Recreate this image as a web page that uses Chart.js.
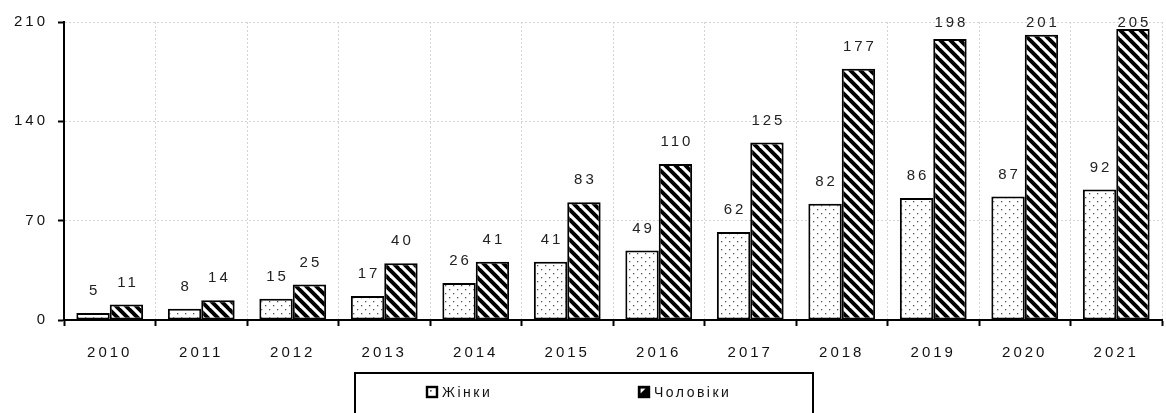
<!DOCTYPE html>
<html>
<head>
<meta charset="utf-8">
<script src="https://cdn.jsdelivr.net/npm/chart.js@4.4.1/dist/chart.umd.min.js"></script>
<style>
  html, body { margin: 0; padding: 0; background: #fff; }
  #wrap { width: 1166px; height: 413px; position: relative; }
</style>
</head>
<body>
<div id="wrap"><canvas id="c" width="1166" height="413"></canvas></div>
<script>
const categories = ['2010','2011','2012','2013','2014','2015','2016','2017','2018','2019','2020','2021'];
const women = [5, 8, 15, 17, 26, 41, 49, 62, 82, 86, 87, 92];
const men = [11, 14, 25, 40, 41, 83, 110, 125, 177, 198, 201, 205];
const seriesNames = ['Жінки', 'Чоловіки'];
const yTicks = [0, 70, 140, 210];

const FONT = '"Liberation Sans", Arial, sans-serif';
const SPACING = '3px';

function dotsPattern() {
  const c = document.createElement('canvas');
  c.width = 8; c.height = 8;
  const g = c.getContext('2d');
  g.fillStyle = '#fff'; g.fillRect(0, 0, 8, 8);
  g.fillStyle = '#555';
  g.fillRect(1, 1, 1.3, 1.3);
  g.fillRect(5, 5, 1.3, 1.3);
  return g.createPattern(c, 'repeat');
}
function stripePattern() {
  const c = document.createElement('canvas');
  c.width = 10; c.height = 10;
  const g = c.getContext('2d');
  g.fillStyle = '#fff'; g.fillRect(0, 0, 10, 10);
  g.strokeStyle = '#000'; g.lineWidth = 3.9;
  for (let k = -1; k <= 1; k++) {
    g.beginPath();
    g.moveTo(k * 10 - 2, -2);
    g.lineTo(k * 10 + 12, 12);
    g.stroke();
  }
  return g.createPattern(c, 'repeat');
}
const pDots = dotsPattern();
const pStripes = stripePattern();

const spacingPlugin = {
  id: 'spacing',
  beforeLayout(chart) { chart.ctx.letterSpacing = SPACING; },
  beforeDraw(chart) { chart.ctx.letterSpacing = SPACING; }
};

const labelsPlugin = {
  id: 'barLabels',
  afterDatasetsDraw(chart) {
    const ctx = chart.ctx;
    const top = chart.chartArea.top;
    ctx.save();
    ctx.letterSpacing = SPACING;
    ctx.font = '15px ' + FONT;
    ctx.fillStyle = '#222';
    ctx.textAlign = 'center';
    ctx.textBaseline = 'middle';
    chart.data.datasets.forEach((ds, i) => {
      const meta = chart.getDatasetMeta(i);
      meta.data.forEach((bar, j) => {
        const y = Math.max(bar.y - 22, top + 1);
        ctx.fillText(String(ds.data[j]), bar.x + 1.5, y);
      });
    });
    ctx.restore();
  }
};

const legendPlugin = {
  id: 'boxLegend',
  afterDraw(chart) {
    const ctx = chart.ctx;
    ctx.save();
    ctx.strokeStyle = '#000';
    ctx.lineWidth = 2;
    ctx.strokeRect(355, 373, 458, 60);
    const items = [
      { x: 427, label: chart.data.datasets[0].label },
      { x: 639, label: chart.data.datasets[1].label }
    ];
    ctx.font = '14px ' + FONT;
    ctx.letterSpacing = '2.5px';
    ctx.textBaseline = 'middle';
    ctx.textAlign = 'left';
    items.forEach((it, idx) => {
      if (idx === 0) {
        ctx.fillStyle = '#fff';
        ctx.fillRect(it.x, 387, 10, 10);
        ctx.fillStyle = '#444';
        ctx.fillRect(it.x + 3, 390, 1.6, 1.6);
      } else {
        ctx.fillStyle = '#000';
        ctx.fillRect(it.x, 387, 10, 10);
        ctx.fillStyle = '#fff';
        ctx.beginPath();
        ctx.moveTo(it.x + 1.5, 388.5);
        ctx.lineTo(it.x + 6.5, 388.5);
        ctx.lineTo(it.x + 1.5, 393.5);
        ctx.closePath();
        ctx.fill();
      }
      ctx.strokeStyle = '#000';
      ctx.lineWidth = 2.4;
      ctx.strokeRect(it.x, 387, 10, 10);
      ctx.fillStyle = '#111';
      ctx.fillText(it.label, it.x + 15, 393);
    });
    ctx.restore();
  }
};

new Chart(document.getElementById('c'), {
  type: 'bar',
  data: {
    labels: categories,
    datasets: [
      { label: seriesNames[0], data: women, backgroundColor: pDots, borderColor: '#000', borderWidth: 2, borderSkipped: false },
      { label: seriesNames[1], data: men, backgroundColor: pStripes, borderColor: '#000', borderWidth: 2, borderSkipped: false }
    ]
  },
  options: {
    responsive: false,
    animation: false,
    devicePixelRatio: 1,
    layout: { padding: { top: 22, right: 4, left: 0, bottom: 0 } },
    datasets: { bar: { categoryPercentage: 0.73, barPercentage: 1.0 } },
    plugins: {
      legend: { display: false },
      tooltip: { enabled: false }
    },
    scales: {
      x: {
        offset: true,
        grid: { display: true, offset: true, color: '#d4d4d4', lineWidth: 1, drawTicks: true, tickLength: 6, tickColor: '#000', tickWidth: 2 },
        border: { display: true, color: '#000', width: 2, dash: [2, 2] },
        ticks: { color: '#111', font: { family: FONT, size: 15 }, padding: 18, maxRotation: 0, autoSkip: false },
        afterFit(scale) { scale.height = 93; }
      },
      y: {
        min: 0, max: 210,
        afterBuildTicks(scale) { scale.ticks = yTicks.map(v => ({ value: v })); },
        grid: { color: '#d4d4d4', lineWidth: 1, drawTicks: true, tickLength: 6, tickColor: '#000', tickWidth: 2 },
        border: { display: true, color: '#000', width: 2, dash: [2, 2] },
        ticks: { color: '#111', font: { family: FONT, size: 15 }, padding: 10 },
        afterFit(scale) { scale.width = 64; }
      }
    }
  },
  plugins: [spacingPlugin, labelsPlugin, legendPlugin]
});
</script>
</body>
</html>
